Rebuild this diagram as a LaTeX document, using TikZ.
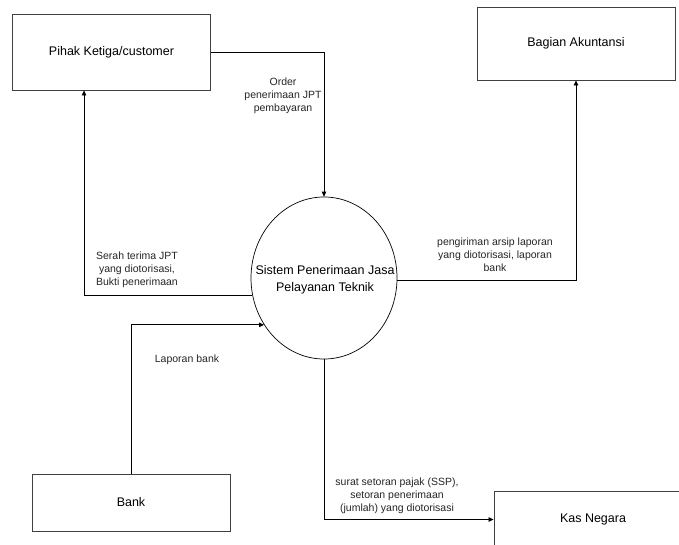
\documentclass[tikz,border=0pt]{standalone}
\usepackage{fontspec}
\setmainfont{Liberation Sans}
\usetikzlibrary{shapes.geometric,arrows.meta,calc}
\begin{document}
\begin{tikzpicture}[x=1pt,y=-1pt,
  entity/.style={draw=black!75,line width=0.9pt,minimum width=198pt,inner sep=0pt,font=\fontsize{12.5}{15}\selectfont},
  proc/.style={draw=black,line width=0.7pt,ellipse,minimum width=146pt,minimum height=162pt,inner sep=0pt},
  proctext/.style={align=center,inner sep=0pt,font=\fontsize{12.5}{17}\selectfont},
  flow/.style={draw=black,line width=0.8pt,-{Triangle[length=5pt,width=4.5pt]}},
  lbl/.style={align=center,inner sep=0pt,text=black!85,font=\fontsize{10.5}{13.2}\selectfont}]
\useasboundingbox (0,0) rectangle (679,545);
\clip (0,0) rectangle (679,545);
\fill[white] (0,0) rectangle (679,545);

\node[entity,minimum height=76pt] (p) at (111.5,52) {Pihak Ketiga/customer};
\node[entity,minimum height=73pt] (a) at (576,43.5) {Bagian Akuntansi};
\node[entity,minimum height=57pt] (b) at (131,502.5) {Bank};
\node[entity,minimum height=57pt] (k) at (593,519.5) {Kas Negara};
\node[proc] (s) at (324,278) {};
\node[proctext] (st) at (325,280) {Sistem Penerimaan Jasa\\Pelayanan Teknik};

\draw[flow] (p.east) -| (s.north);
\draw[flow] (s.194) -| ([xshift=72pt]p.south west);
\draw[flow] (b.north) |- (s.218);
\draw[flow] (s.358) -| (a.south);
\draw[flow] (s.south) |- (k.west);

\node[lbl] (l1) at (283,96) {Order\\penerimaan JPT\\pembayaran};
\node[lbl] (l2) at (137,270) {Serah terima JPT\\yang diotorisasi,\\Bukti penerimaan};
\node[lbl] (l3) at (495,255) {pengiriman arsip laporan\\yang diotorisasi, laporan\\bank};
\node[lbl] (l4) at (187,360) {Laporan bank};
\node[lbl] (l5) at (397,496) {surat setoran pajak (SSP),\\setoran penerimaan\\(jumlah) yang diotorisasi};
\end{tikzpicture}
\end{document}
